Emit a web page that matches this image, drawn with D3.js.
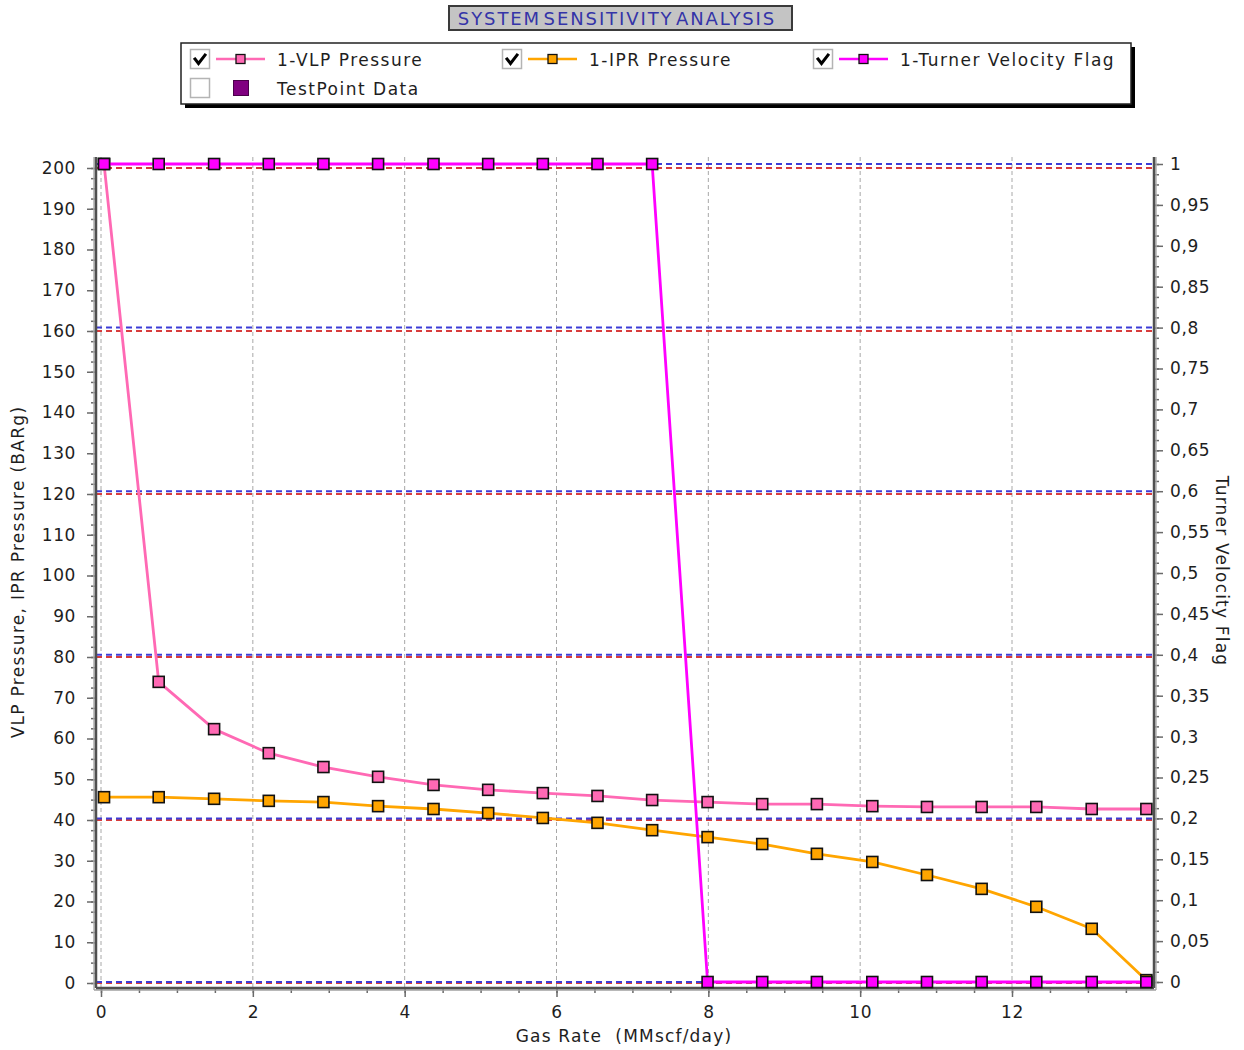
<!DOCTYPE html>
<html><head><meta charset="utf-8">
<script src="https://cdn.jsdelivr.net/npm/d3@7"></script>
<style>
body{margin:0;background:#fff;}
text{font-family:"DejaVu Sans",Verdana,sans-serif;fill:#1e1e1e;white-space:pre;}
</style>
</head><body>
<svg id="c" width="1244" height="1050"></svg>
<script>
// ---------- data ----------
const gasRate = [0.04, 0.76, 1.49, 2.21, 2.93, 3.65, 4.38, 5.10, 5.82, 6.54, 7.26, 7.99, 8.71, 9.43, 10.16, 10.88, 11.60, 12.32, 13.05, 13.77];
const vlpPressure = [201, 73.9, 62.3, 56.4, 53.0, 50.6, 48.6, 47.4, 46.6, 45.9, 44.9, 44.4, 43.9, 43.9, 43.4, 43.2, 43.2, 43.2, 42.7, 42.7];
const iprPressure = [45.6, 45.6, 45.2, 44.7, 44.4, 43.4, 42.7, 41.7, 40.5, 39.3, 37.5, 35.8, 34.1, 31.7, 29.7, 26.5, 23.1, 18.7, 13.3, 0.7];
const turnerFlag = [1, 1, 1, 1, 1, 1, 1, 1, 1, 1, 1, 0, 0, 0, 0, 0, 0, 0, 0, 0];
const xTickValues = [0, 2, 4, 6, 8, 10, 12];
const leftTickValues = [0, 10, 20, 30, 40, 50, 60, 70, 80, 90, 100, 110, 120, 130, 140, 150, 160, 170, 180, 190, 200];
const rightTickValues = [0, 0.05, 0.1, 0.15, 0.2, 0.25, 0.3, 0.35, 0.4, 0.45, 0.5, 0.55, 0.6, 0.65, 0.7, 0.75, 0.8, 0.85, 0.9, 0.95, 1];
const leftGridValues = [0, 40, 80, 120, 160, 200];
const rightGridValues = [0, 0.2, 0.4, 0.6, 0.8, 1];
const seriesNames = ["1-VLP Pressure", "1-IPR Pressure", "1-Turner Velocity Flag", "TestPoint Data"];
const titleText = "SYSTEM SENSITIVITY ANALYSIS";
const xTitle = "Gas Rate  (MMscf/day)";
const yLeftTitle = "VLP Pressure, IPR Pressure (BARg)";
const yRightTitle = "Turner Velocity Flag";

// ---------- layout ----------
const svg = d3.select("#c");
const L = 96, R = 1154, T = 157, B = 988;
const x = d3.scaleLinear().domain([0, 12]).range([101, 1012]);
const yL = d3.scaleLinear().domain([0, 200]).range([983, 168]);
const yR = d3.scaleLinear().domain([0, 1]).range([982, 164]);
const commaFmt = d3.formatLocale({decimal: ",", thousands: ".", grouping: [3], currency: ["", ""]}).format("~g");

// ---------- grid ----------
const g = svg.append("g");
g.selectAll(".vg").data(xTickValues).join("line")
  .attr("x1", d => x(d)).attr("x2", d => x(d)).attr("y1", T).attr("y2", B)
  .attr("stroke", "#a8a8a8").attr("stroke-width", 1).attr("stroke-dasharray", "4,3");
g.selectAll(".rg").data(leftGridValues).join("line")
  .attr("x1", L).attr("x2", R).attr("y1", d => yL(d)).attr("y2", d => yL(d))
  .attr("stroke", "#d83c3c").attr("stroke-width", 2).attr("stroke-dasharray", "6,4");
g.selectAll(".bg").data(rightGridValues).join("line")
  .attr("x1", L).attr("x2", R).attr("y1", d => yR(d)).attr("y2", d => yR(d))
  .attr("stroke", "#3c3cd8").attr("stroke-width", 2).attr("stroke-dasharray", "6,4");

// ---------- axes ----------
function styleAxis(sel) {
  sel.select(".domain").remove();
  sel.selectAll(".tick line").attr("stroke", "#6a6a6a").attr("stroke-width", 1.5);
  sel.selectAll(".tick text").style("font-size", "17px").style("letter-spacing", "0.6px").attr("fill", "#1a1a1a");
}
// left
svg.append("g").attr("transform", `translate(${L},0)`)
  .call(d3.axisLeft(yL).tickValues(d3.range(0, 200.1, 2.5)).tickSize(5).tickFormat(""))
  .call(styleAxis);
svg.append("g").attr("transform", `translate(${L},0)`)
  .call(d3.axisLeft(yL).tickValues(leftTickValues).tickSize(9).tickPadding(11).tickFormat(d3.format("d")))
  .call(styleAxis);
// right
svg.append("g").attr("transform", `translate(${R},0)`)
  .call(d3.axisRight(yR).tickValues(d3.range(0, 1.0001, 0.0125)).tickSize(5).tickFormat(""))
  .call(styleAxis);
svg.append("g").attr("transform", `translate(${R},0)`)
  .call(d3.axisRight(yR).tickValues(rightTickValues).tickSize(9).tickPadding(7).tickFormat(commaFmt))
  .call(styleAxis);
// bottom
svg.append("g").attr("transform", `translate(0,${B})`)
  .call(d3.axisBottom(x).tickValues(d3.range(0, 13.6, 0.5)).tickSize(5).tickFormat(""))
  .call(styleAxis);
svg.append("g").attr("transform", `translate(0,${B})`)
  .call(d3.axisBottom(x).tickValues(xTickValues).tickSize(9).tickPadding(9).tickFormat(d3.format("d")))
  .call(styleAxis);

// axis lines (3D look)
const ax = svg.append("g");
ax.append("line").attr("x1", L - 2).attr("x2", L - 2).attr("y1", T).attr("y2", B + 2).attr("stroke", "#b0b0b0").attr("stroke-width", 1.5);
ax.append("line").attr("x1", L).attr("x2", L).attr("y1", T).attr("y2", B).attr("stroke", "#505050").attr("stroke-width", 2.5);
ax.append("line").attr("x1", R + 2).attr("x2", R + 2).attr("y1", T).attr("y2", B + 2).attr("stroke", "#b0b0b0").attr("stroke-width", 1.5);
ax.append("line").attr("x1", R).attr("x2", R).attr("y1", T).attr("y2", B).attr("stroke", "#505050").attr("stroke-width", 2.5);
ax.append("line").attr("x1", L - 2).attr("x2", R + 2).attr("y1", B + 2).attr("y2", B + 2).attr("stroke", "#a0a0a0").attr("stroke-width", 1.5);
ax.append("line").attr("x1", L).attr("x2", R).attr("y1", B).attr("y2", B).attr("stroke", "#505050").attr("stroke-width", 2.5);

// ---------- series ----------
function drawSeries(values, yScale, color) {
  const pts = gasRate.map((r, i) => [x(r), yScale(values[i])]);
  svg.append("path").attr("d", d3.line()(pts)).attr("fill", "none")
    .attr("stroke", color).attr("stroke-width", 2.8).attr("stroke-linejoin", "round");
  svg.append("g").selectAll("rect").data(pts).join("rect")
    .attr("x", d => d[0] - 5.5).attr("y", d => d[1] - 5.5).attr("width", 11).attr("height", 11)
    .attr("fill", color).attr("stroke", "#111").attr("stroke-width", 1.6);
}
drawSeries(vlpPressure, yL, "#ff69b4");
drawSeries(iprPressure, yL, "#ffa500");
drawSeries(turnerFlag, yR, "#ff00ff");

// ---------- axis titles ----------
svg.append("text").attr("x", 624).attr("y", 1042).attr("text-anchor", "middle")
  .style("font-size", "17px").style("letter-spacing", "1.2px").text(xTitle);
svg.append("text").attr("transform", "translate(24,572) rotate(-90)").attr("text-anchor", "middle")
  .style("font-size", "17px").style("letter-spacing", "1.3px").text(yLeftTitle);
svg.append("text").attr("transform", "translate(1216,571) rotate(90)").attr("text-anchor", "middle")
  .style("font-size", "17px").style("letter-spacing", "1.2px").text(yRightTitle);

// ---------- title ----------
svg.append("rect").attr("x", 449).attr("y", 6).attr("width", 343).attr("height", 24)
  .attr("fill", "#c4c4c4").attr("stroke", "#3a3a3a").attr("stroke-width", 2);
svg.append("text").attr("x", 617).attr("y", 25).attr("text-anchor", "middle")
  .style("font-size", "18px").style("letter-spacing", "1.9px").style("word-spacing", "-5px")
  .style("fill", "#3434a8").text(titleText);

// ---------- legend ----------
const lg = svg.append("g");
lg.append("rect").attr("x", 185).attr("y", 47).attr("width", 950).attr("height", 61).attr("fill", "#000");
lg.append("rect").attr("x", 181).attr("y", 43).attr("width", 950).attr("height", 61)
  .attr("fill", "#fff").attr("stroke", "#222").attr("stroke-width", 1.5);
const legendItems = [
  {name: seriesNames[0], color: "#ff69b4", cx: 190, cy: 59, checked: true, type: "line"},
  {name: seriesNames[1], color: "#ffa500", cx: 502, cy: 59, checked: true, type: "line"},
  {name: seriesNames[2], color: "#ff00ff", cx: 813, cy: 59, checked: true, type: "line"},
  {name: seriesNames[3], color: "#800080", cx: 190, cy: 88, checked: false, type: "box"}
];
legendItems.forEach(it => {
  const gi = lg.append("g").attr("transform", `translate(${it.cx},${it.cy})`);
  gi.append("rect").attr("x", 0.5).attr("y", -9.5).attr("width", 19).attr("height", 19)
    .attr("fill", "#fff").attr("stroke", "#b4b4b4").attr("stroke-width", 1.5);
  if (it.checked) {
    gi.append("path").attr("d", "M5,0 L8.5,4.5 L15,-4").attr("fill", "none")
      .attr("stroke", "#000").attr("stroke-width", 3).attr("stroke-linecap", "square");
  }
  if (it.type === "line") {
    gi.append("line").attr("x1", 26).attr("x2", 75).attr("y1", 0).attr("y2", 0)
      .attr("stroke", it.color).attr("stroke-width", 2.5);
    gi.append("rect").attr("x", 46).attr("y", -4.5).attr("width", 9).attr("height", 9)
      .attr("fill", it.color).attr("stroke", "#111").attr("stroke-width", 1.3);
  } else {
    gi.append("rect").attr("x", 43.5).attr("y", -7.5).attr("width", 15).attr("height", 15)
      .attr("fill", it.color).attr("stroke", "#4a004a").attr("stroke-width", 1);
  }
  gi.append("text").attr("x", 87).attr("y", 6.5)
    .style("font-size", "17px").style("letter-spacing", "1.5px").text(it.name);
});
</script>
</body></html>
